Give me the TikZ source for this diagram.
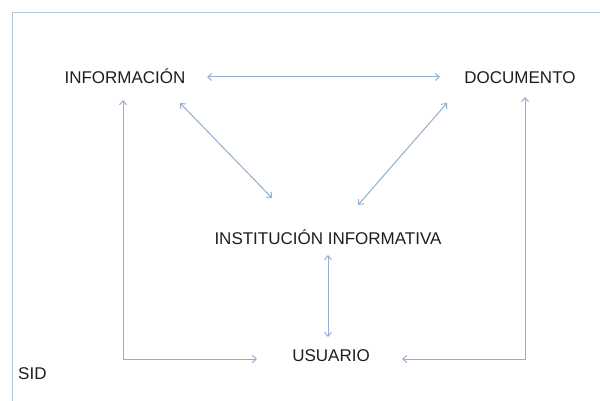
\documentclass[tikz,border=0pt]{standalone}
\usepackage{fontspec}
\setmainfont{Liberation Sans}
\usetikzlibrary{arrows.meta,calc}
\definecolor{linec}{HTML}{93AED3}
\definecolor{framec}{HTML}{B0C4DA}
\definecolor{txtc}{HTML}{1E1E1E}
\tikzset{
  lbl/.style={inner sep=0pt, text=txtc, font=\fontsize{17}{17}\selectfont, text height=12.2pt, text depth=0pt},
  arr/.style={draw=linec, line width=1pt, {Straight Barb[length=4pt,width=7pt]}-{Straight Barb[length=4pt,width=7pt]}},
  framestyle/.style={draw=framec, line width=1.2pt}
}
\begin{document}
\begin{tikzpicture}[x=1pt,y=-1pt]
\useasboundingbox (0,0) rectangle (600,401);
\fill[white] (0,0) rectangle (600,401);
\draw[framestyle] (12.5,401) -- (12.5,12.5) -- (600,12.5);
\node[lbl] (info) at (125,77) {INFORMACIÓN};
\node[lbl] (doc) at (520,77) {DOCUMENTO};
\node[lbl] (inst) at (328,238) {INSTITUCIÓN INFORMATIVA};
\node[lbl] (usu) at (331,355) {USUARIO};
\node[lbl, anchor=west] (sid) at (18,373) {SID};
\draw[arr] ($(info)+(82,0)$) -- ($(doc)+(-80,0)$);
\draw[arr] ($(info)+(55,26)$) -- ($(inst)+(-56,-40)$);
\draw[arr] ($(doc)+(-73,26)$) -- ($(inst)+(30,-33)$);
\draw[arr] ($(inst)+(0,17)$) -- ($(inst)+(0,99)$);
\draw[arr] ($(info)+(-2,23)$) |- ($(usu)+(-74,4)$);
\draw[arr] ($(doc)+(5,20)$) |- ($(usu)+(71,4)$);
\end{tikzpicture}
\end{document}
